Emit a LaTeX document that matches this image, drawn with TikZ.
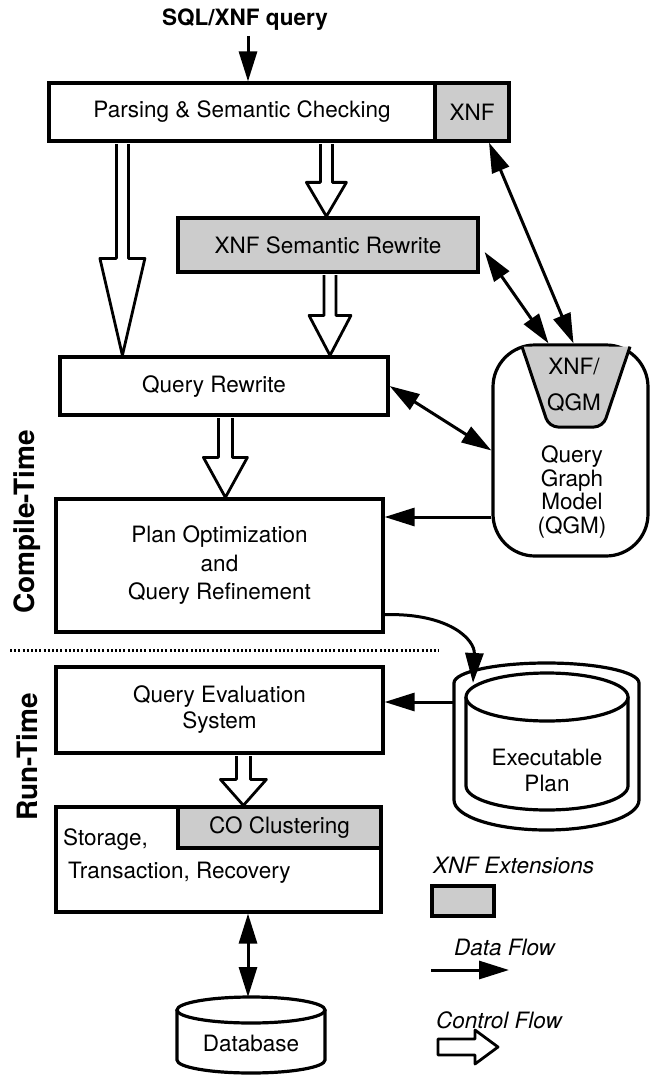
\documentclass[tikz,border=0pt]{standalone}
\usepackage{fontspec}
\setmainfont{TeX Gyre Heros}
\usetikzlibrary{arrows.meta,calc}
\newcommand{\blockdown}[5]{%
  \draw[hollow] let \p1=#1, \p2=#2 in
    ({\x1-#3pt},{\y1-1.6pt}) -- ({\x1-#3pt},{\y2+#5pt}) -- ({\x1-#4pt},{\y2+#5pt}) -- (\x1,\y2)
    -- ({\x1+#4pt},{\y2+#5pt}) -- ({\x1+#3pt},{\y2+#5pt}) -- ({\x1+#3pt},{\y1-1.6pt});}
\begin{document}
\begin{tikzpicture}[x=1pt,y=-1pt,
  every node/.style={font=\fontsize{22.5}{26}\selectfont, inner sep=0pt},
  box/.style={draw, line width=3.2pt, fill=white, align=center},
  xbox/.style={box, fill=black!20},
  shade/.style={fill=black!20},
  data/.style={line width=3pt, -{Triangle[length=30pt,width=18pt]}},
  ddata/.style={line width=3pt, {Triangle[length=30pt,width=18pt]}-{Triangle[length=30pt,width=18pt]}},
  hollow/.style={draw, fill=white, line width=2.8pt, line join=round},
  lbl/.style={font=\fontsize{28}{32}\selectfont\bfseries, rotate=90},
  outline/.style={line width=3.2pt}
]
\useasboundingbox[fill=white] (0,0) rectangle (656,1075);

% title
\node[font=\fontsize{22.5}{26}\selectfont\bfseries] (sql) at (245,20) {SQL/XNF query};

% main boxes
\node[box, minimum width=386pt, minimum height=58pt] (parse) at (242,112) {Parsing \& Semantic Checking};
\node[xbox, minimum width=74pt, minimum height=58pt] (xnf) at (472,112) {XNF};
\node[xbox, minimum width=300pt, minimum height=54pt] (xsr) at (328,245) {XNF Semantic Rewrite};
\node[box, minimum width=328pt, minimum height=58pt] (qr) at (224,386) {};
\node (qrtext) at (214,387) {Query Rewrite};
\node[box, minimum width=327pt, minimum height=133pt, font=\fontsize{22.5}{28.5}\selectfont] (plan) at (219.5,565.5) {Plan Optimization\\and\\Query Refinement};
\node[box, minimum width=327pt, minimum height=86pt] (qes) at (219.5,710) {Query Evaluation\\System};
\node[box, minimum width=325pt, minimum height=105pt] (stor) at (218.5,859.5) {};
\node[xbox, minimum width=203pt, minimum height=41pt] (co) at (279.5,827.5) {CO Clustering};
\node[anchor=west] (stor1) at (63,840) {Storage,};
\node[anchor=west] (stor2) at (68,873) {Transaction, Recovery};

% QGM
\node[draw, line width=3.2pt, rounded corners=42pt, minimum width=155pt, minimum height=211pt] (qgm) at (570.5,450.5) {};
\draw[shade, line width=3pt, rounded corners=9pt] (522,346.6) -- (549,427) -- (603,427) -- (630,346.6);
\node[align=center] (xq) at (574,385) {XNF/\\[10pt]QGM};
\node[align=center, font=\fontsize{22.5}{23.5}\selectfont] (qgmtext) at (572,492) {Query\\Graph\\Model\\(QGM)};

% Executable plan
\draw[outline] (454,683) -- (454,800) arc[start angle=180,end angle=360,x radius=92.5pt,y radius=30pt]
  -- (639,683) arc[start angle=0,end angle=180,x radius=92.5pt,y radius=20pt] -- cycle;
\draw[outline, fill=white] (466,697) -- (466,786) arc[start angle=180,end angle=360,x radius=81pt,y radius=24pt]
  -- (628,697);
\draw[outline, fill=white] (547,697) ellipse[x radius=81pt, y radius=24pt];
\node[align=center] (exec) at (547,770) {Executable\\Plan};
\coordinate (execL) at (454,702);
\coordinate (execIn) at (473,683);

% Database
\draw[outline, fill=white] (177,1010) -- (177,1060) arc[start angle=180,end angle=360,x radius=74pt,y radius=13pt] -- (325,1010);
\draw[outline, fill=white] (251,1010) ellipse[x radius=74pt, y radius=13pt];
\node (db) at (251,1043) {Database};
\coordinate (dbtop) at (248,997);

% compile/run separation
\draw[line width=3pt, dash pattern=on 2pt off 2.2pt] (10,650) -- (439,650);
\node[lbl] (ct) at (27,522) {Compile-Time};
\node[lbl] (rt) at (27,757) {Run-Time};

% control flow (hollow arrows)
\blockdown{($(parse.south west)+(75,0)$)}{($(qr.north west)+(64,0)$)}{6}{22.5}{97}
\blockdown{($(parse.south west)+(279,0)$)}{(xsr.north)}{6}{20}{34}
\blockdown{($(xsr.south)+(2,0)$)}{($(qr.north west)+(270,0)$)}{6}{21}{40}
\blockdown{($(qr.south west)+(167,0)$)}{($(plan.north west)+(171,0)$)}{7}{22}{40}
\blockdown{($(qes.south west)+(189,0)$)}{($(stor.north west)+(189,0)$)}{7}{23}{26}

% data flow
\draw[data] ($(sql.south)+(3,5)$) -- ($(parse.north)+(6,0)$);
\draw[ddata] ($(xnf.south)+(17,0)$) -- ($(qgm.north)+(3,0)$);
\draw[ddata] ($(xsr.east)+(5,7)$) -- ($(qgm.north)+(-22,0)$);
\draw[ddata] (qr.east) -- (qgm.west);
\coordinate (qgmout) at ($(qgm.west)+(0,66.5)$);
\draw[data] (qgmout) -- (plan.east |- qgmout);
\draw[data] (execL) -- (qes.east |- execL);
\draw[data] ([yshift=19pt]plan.south east) .. controls (450,613) and (475,640) .. (execIn);
\draw[ddata] ($(stor.south)+(29.5,0)$) -- (dbtop);

% legend
\node[anchor=west, font=\fontsize{22.5}{26}\selectfont\itshape] (lx) at (433,865) {XNF Extensions};
\draw[shade, line width=3.2pt] (432,886) rectangle (494,916);
\node[anchor=west, font=\fontsize{22.5}{26}\selectfont\itshape] (ld) at (454,947) {Data Flow};
\draw[data] (431,970) -- (509,970);
\node[anchor=west, font=\fontsize{22.5}{26}\selectfont\itshape] (lc) at (436,1020) {Control Flow};
\draw[hollow] (438,1039) -- (475,1039) -- (475,1030) -- (498,1047) -- (475,1064) -- (475,1055) -- (438,1055) -- cycle;
\end{tikzpicture}
\end{document}
